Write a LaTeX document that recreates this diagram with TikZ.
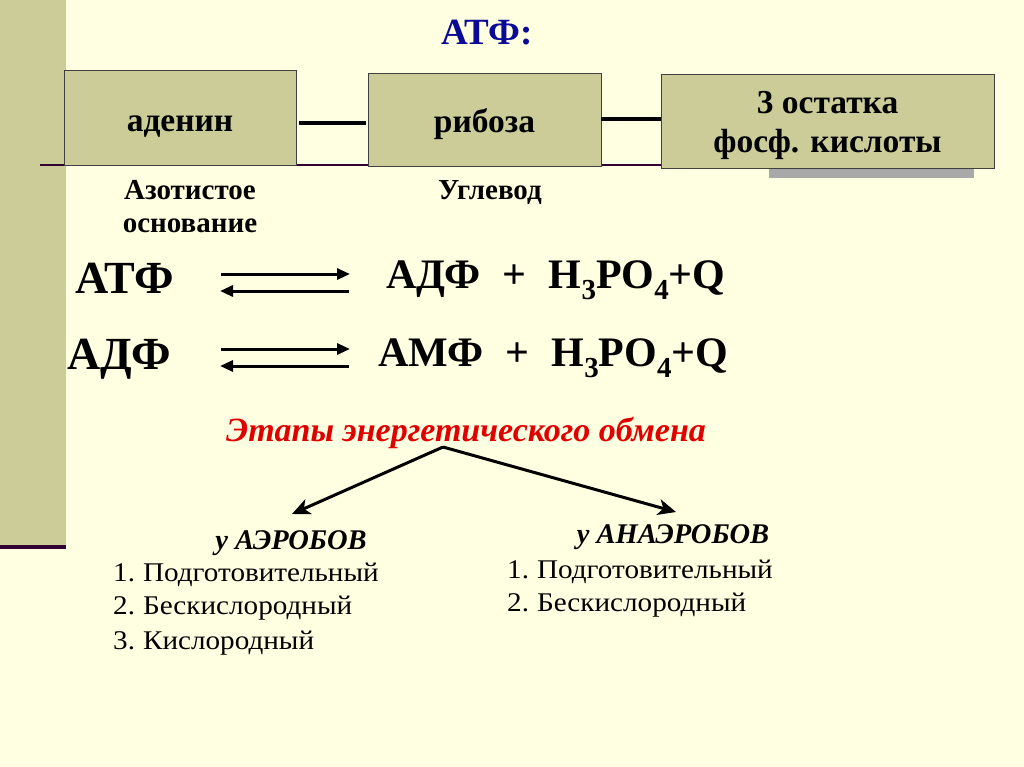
\documentclass[tikz,border=0pt]{standalone}
\usepackage{fontspec}
\setmainfont{Liberation Serif}
\newfontfamily\itemfam{Liberation Serif}[FakeStretch=1.08]
\usetikzlibrary{arrows.meta}
\definecolor{bgc}{RGB}{255,255,225}
\definecolor{band}{RGB}{204,204,153}
\definecolor{boxc}{RGB}{204,204,153}
\definecolor{dline}{RGB}{51,0,51}
\definecolor{ttl}{RGB}{10,10,150}
\definecolor{rd}{RGB}{225,0,0}
\definecolor{shd}{RGB}{168,168,168}
\newcommand{\sub}[1]{\raisebox{-0.28em}{\fontsize{29}{29}\selectfont #1}}
\tikzset{
  partbox/.style={draw=black!75, line width=0.9pt, fill=boxc, inner sep=0pt},
  boxtxt/.style={font=\bfseries\fontsize{33.5}{33.5}\selectfont, inner sep=0pt, anchor=base},
  conn/.style={line width=3.4pt, black},
  sublbl/.style={font=\bfseries\fontsize{29}{29}\selectfont, inner sep=0pt, anchor=base},
  eql/.style={font=\bfseries\fontsize{46}{46}\selectfont, inner sep=0pt, anchor=base},
  eqr/.style={font=\bfseries\fontsize{42}{42}\selectfont, inner sep=0pt, anchor=base west},
  eqarr/.style={line width=3pt, -{Triangle[length=13pt,width=11pt]}},
  brarr/.style={line width=3pt, -{Stealth[length=18pt,width=16pt,inset=5pt]}},
  redttl/.style={font=\bfseries\itshape\fontsize{34}{34}\selectfont, text=rd, inner sep=0pt, anchor=base},
  grp/.style={font=\bfseries\itshape\fontsize{28.5}{28.5}\selectfont, inner sep=0pt, anchor=base},
  item/.style={font=\itemfam\fontsize{27}{27}\selectfont, inner sep=0pt, anchor=west}
}
\begin{document}
\begin{tikzpicture}[x=1pt,y=-1pt]
\useasboundingbox (0,0) rectangle (1024,767);
\fill[bgc] (0,0) rectangle (1024,767);
\fill[band] (0,0) rectangle (66,548);
\draw[dline, line width=4pt] (0,547) -- (66,547);
\draw[dline, line width=2pt] (40,165) -- (661,165);
\fill[shd] (769,167) rectangle (974,178);
% boxes
\node[partbox, minimum width=232pt, minimum height=95pt] (aden) at (180,117.5) {};
\node[partbox, minimum width=233pt, minimum height=93pt] (ribo) at (484.5,119.5) {};
\node[partbox, minimum width=333pt, minimum height=94pt] (phos) at (827.5,121) {};
\node[boxtxt] (adenT) at ([yshift=-14pt]aden.center) {аденин};
\node[boxtxt] (riboT) at ([yshift=-13.5pt]ribo.center) {рибоза};
\node[boxtxt] (phosT1) at ([yshift=7pt]phos.center) {3 остатка};
\node[boxtxt] (phosT2) at ([yshift=-32pt]phos.center) {фосф. кислоты};
\draw[conn] ([xshift=3pt]aden.east |- 0,123) -- ([xshift=-2pt]ribo.west |- 0,123);
\draw[conn] (ribo.east |- 0,119) -- (phos.west |- 0,119);
% title
\node[font=\bfseries\fontsize{37}{37}\selectfont, text=ttl, inner sep=0pt] (atp) at (487,33) {АТФ:};
% labels
\node[sublbl] (azot1) at (190,200) {Азотистое};
\node[sublbl] (azot2) at (190,233) {основание};
\node[sublbl] (uglv) at (490,200) {Углевод};
% equations
\node[eql] (l1) at (124.5,293) {АТФ};
\node[eql] (l2) at (119,369) {АДФ};
\node[eqr] (r1) at (386,288) {АДФ\hspace{22pt}+\hspace{22pt}H\sub{3}PO\sub{4}+Q};
\node[eqr] (r2) at (378,366) {АМФ\hspace{22pt}+\hspace{22pt}H\sub{3}PO\sub{4}+Q};
\coordinate (a1s) at (221,274); \coordinate (a1e) at (350,274);
\coordinate (b1s) at (349,291); \coordinate (b1e) at (220,291);
\coordinate (a2s) at (221,349); \coordinate (a2e) at (350,349);
\coordinate (b2s) at (349,366); \coordinate (b2e) at (220,366);
\draw[eqarr] (a1s) -- (a1e);
\draw[eqarr] (b1s) -- (b1e);
\draw[eqarr] (a2s) -- (a2e);
\draw[eqarr] (b2s) -- (b2e);
% stages
\node[redttl] (stg) at (466,441) {Этапы энергетического обмена};
\coordinate (apex) at (443,447);
\coordinate (tipL) at (292,514);
\coordinate (tipR) at (676,512);
\draw[brarr] (apex) -- (tipL);
\draw[brarr] (apex) -- (tipR);
\node[grp] (aer) at (291,549) {у АЭРОБОВ};
\node[item] (a1) at (113,575) {1.\hspace{8pt}Подготовительный};
\node[item] (a2) at (113,608) {2.\hspace{8pt}Бескислородный};
\node[item] (a3) at (113,643) {3.\hspace{8pt}Кислородный};
\node[grp] (anaer) at (673,543) {у АНАЭРОБОВ};
\node[item] (n1) at (507,572) {1.\hspace{8pt}Подготовительный};
\node[item] (n2) at (507,605) {2.\hspace{8pt}Бескислородный};
\end{tikzpicture}
\end{document}
